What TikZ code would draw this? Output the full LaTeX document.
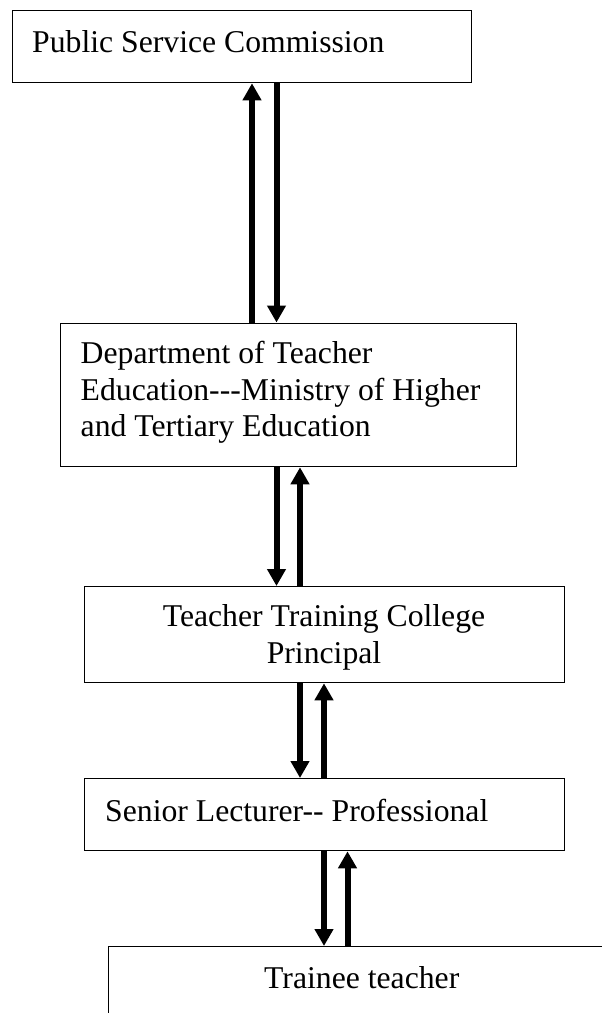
\documentclass[tikz,border=0pt]{standalone}
\usepackage{fontspec}
\setmainfont{Liberation Serif}[Ligatures=NoCommon]
\usetikzlibrary{arrows.meta}
\tikzset{
  box/.style={draw=black, line width=1.3pt, rectangle, inner sep=0pt, anchor=north west},
  lbl/.style={inner sep=0pt, font=\fontsize{31.7}{36.5}\selectfont},
  arr/.style={line width=6pt, -{Triangle[width=18pt,length=17pt]}}
}
\begin{document}
\begin{tikzpicture}[x=1pt,y=-1pt]
\useasboundingbox (0,0) rectangle (602,1013);
\clip (0,0) rectangle (602,1013);
\fill[white] (0,0) rectangle (602,1013);
% boxes
\node[box, minimum width=459.5pt, minimum height=72pt] (b1) at (11.5,10) {};
\node[box, minimum width=456pt, minimum height=143.5pt] (b2) at (60,322.5) {};
\node[box, minimum width=480pt, minimum height=96pt] (b3) at (84,586) {};
\node[box, minimum width=480pt, minimum height=72pt] (b4) at (84,778) {};
\node[box, minimum width=540pt, minimum height=120pt] (b5) at (108,946) {};
% texts
\node[lbl, anchor=base west] (t1) at (32,52) {Public Service Commission};
\node[lbl, anchor=north west, align=left] (t2) at (80.5,341.3) {Department of Teacher\\Education-{}-{}-Ministry of Higher\\and Tertiary Education};
\node[lbl, anchor=north, align=center] (t3) at (324,604.3) {Teacher Training College\\Principal};
\node[lbl, anchor=base west] (t4) at (105,821) {Senior Lecturer-{}- Professional};
\node[lbl, anchor=base west] (t5) at (264,988) {Trainee teacher};
% arrow columns
\coordinate (c1) at (252,0);
\coordinate (c2) at (276.5,0);
\coordinate (c3) at (300,0);
\coordinate (c4) at (324,0);
\coordinate (c5) at (347.5,0);
% connectors
\draw[arr] (b2.north -| c1) -- (b1.south -| c1);
\draw[arr] (b1.south -| c2) -- (b2.north -| c2);
\draw[arr] (b2.south -| c2) -- (b3.north -| c2);
\draw[arr] (b3.north -| c3) -- (b2.south -| c3);
\draw[arr] (b3.south -| c3) -- (b4.north -| c3);
\draw[arr] (b4.north -| c4) -- (b3.south -| c4);
\draw[arr] (b4.south -| c4) -- (b5.north -| c4);
\draw[arr] (b5.north -| c5) -- (b4.south -| c5);
\end{tikzpicture}
\end{document}
